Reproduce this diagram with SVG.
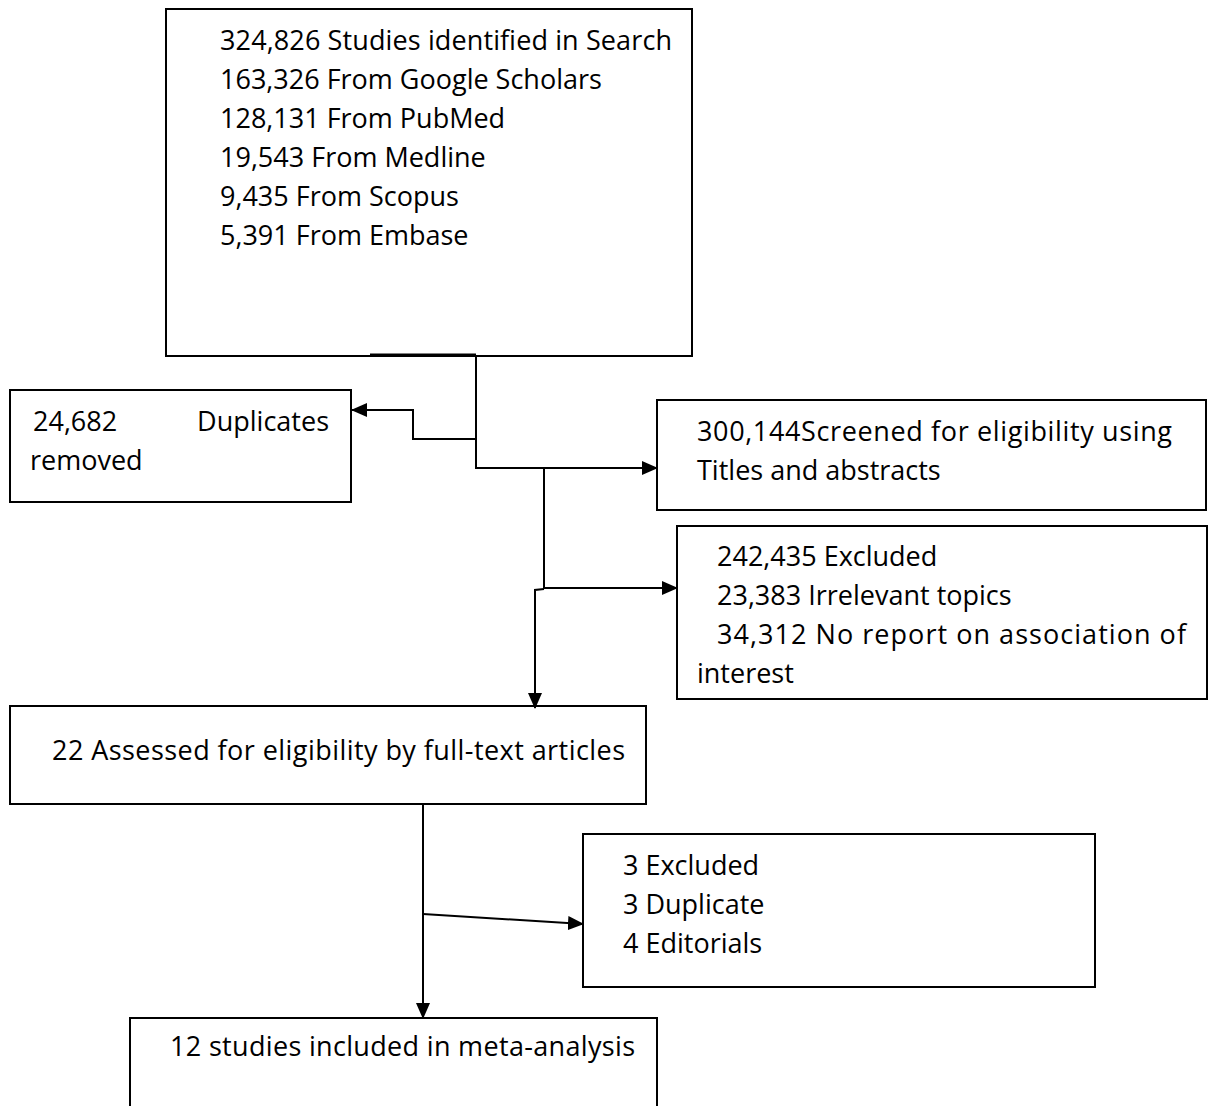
<svg xmlns="http://www.w3.org/2000/svg" width="1208" height="1106" viewBox="0 0 1208 1106">
<style>
.box{fill:#fff;stroke:#000;stroke-width:2}
.t{font-family:"Open Sans","Noto Sans","Liberation Sans",sans-serif;font-size:27px;fill:#000}
.c{fill:none;stroke:#000;stroke-width:2}
</style>
<defs>
<marker id="ah" markerWidth="16" markerHeight="14" refX="15" refY="7" orient="auto" markerUnits="userSpaceOnUse">
<path d="M0,0 L16,7 L0,14 Z" fill="#000"/>
</marker>
</defs>
<rect width="1208" height="1106" fill="#fff"/>
<g id="n1">
<rect class="box" x="166" y="9" width="526" height="347"/>
<text class="t" x="220" y="50" textLength="452">324,826 Studies identified in Search</text>
<text class="t" x="220" y="89">163,326 From Google Scholars</text>
<text class="t" x="220" y="128">128,131 From PubMed</text>
<text class="t" x="220" y="167">19,543 From Medline</text>
<text class="t" x="220" y="206">9,435 From Scopus</text>
<text class="t" x="220" y="245">5,391 From Embase</text>
</g>
<g id="n2">
<rect class="box" x="10" y="390" width="341" height="112"/>
<text class="t" x="33" y="431">24,682</text>
<text class="t" x="329" y="431" text-anchor="end">Duplicates</text>
<text class="t" x="30" y="470">removed</text>
</g>
<g id="n3">
<rect class="box" x="657" y="400" width="549" height="110"/>
<text class="t" x="697" y="441" textLength="475">300,144Screened for eligibility using</text>
<text class="t" x="697" y="480">Titles and abstracts</text>
</g>
<g id="n4">
<rect class="box" x="677" y="526" width="530" height="173"/>
<text class="t" x="717" y="566">242,435 Excluded</text>
<text class="t" x="717" y="605">23,383 Irrelevant topics</text>
<text class="t" x="717" y="644" textLength="469">34,312 No report on association of</text>
<text class="t" x="697" y="683">interest</text>
</g>
<g id="n5">
<rect class="box" x="10" y="706" width="636" height="98"/>
<text class="t" x="52" y="760" textLength="573">22 Assessed for eligibility by full-text articles</text>
</g>
<g id="n6">
<rect class="box" x="583" y="834" width="512" height="153"/>
<text class="t" x="623" y="875">3 Excluded</text>
<text class="t" x="623" y="914">3 Duplicate</text>
<text class="t" x="623" y="953">4 Editorials</text>
</g>
<g id="n7">
<rect class="box" x="130" y="1018" width="527" height="100"/>
<text class="t" x="170" y="1056" textLength="465">12 studies included in meta-analysis</text>
</g>
<g id="connectors">
<line x1="370" y1="355" x2="476" y2="355" stroke="#000" stroke-width="3"/>
<polyline class="c" points="476,355 476,468 657,468" marker-end="url(#ah)"/>
<polyline class="c" points="476,439 413,439 413,410 352,410" marker-end="url(#ah)"/>
<polyline class="c" points="544,468 544,588 677,588" marker-end="url(#ah)"/>
<polyline class="c" points="544,589 535,590 535,708" marker-end="url(#ah)"/>
<line class="c" x1="423" y1="804" x2="423" y2="1018" marker-end="url(#ah)"/>
<line class="c" x1="423" y1="914" x2="583" y2="924" marker-end="url(#ah)"/>
</g>
</svg>
